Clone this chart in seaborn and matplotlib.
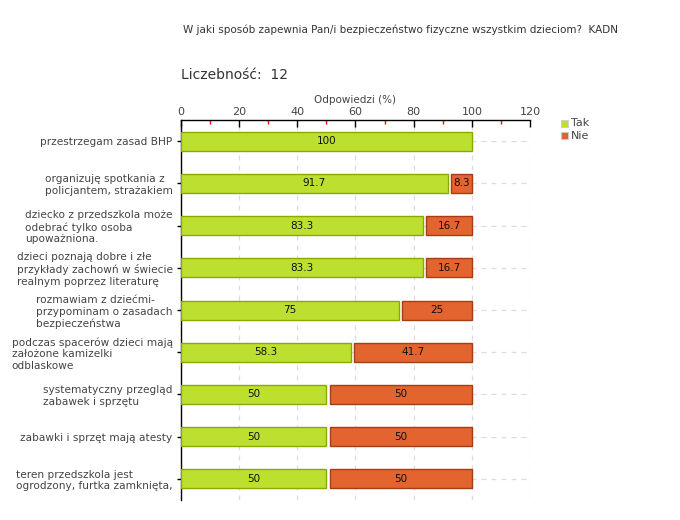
import matplotlib
matplotlib.use("Agg")
import matplotlib.pyplot as plt
import seaborn as sns
import pandas as pd
import numpy as np

categories = [
    "przestrzegam zasad BHP",
    "organizuję spotkania z\npolicjantem, strażakiem",
    "dziecko z przedszkola może\nodebrać tylko osoba\nupoważniona.",
    "dzieci poznają dobre i złe\nprzykłady zachowń w świecie\nrealnym poprzez literaturę",
    "rozmawiam z dziećmi-\nprzypominam o zasadach\nbezpieczeństwa",
    "podczas spacerów dzieci mają\nzałożone kamizelki\nodblaskowe",
    "systematyczny przegląd\nzabawek i sprzętu",
    "zabawki i sprzęt mają atesty",
    "teren przedszkola jest\nogrodzony, furtka zamknięta,",
]
tak = [100, 91.7, 83.3, 83.3, 75, 58.3, 50, 50, 50]
nie = [0, 8.3, 16.7, 16.7, 25, 41.7, 50, 50, 50]
series_names = ["Tak", "Nie"]
x_ticks = [0, 20, 40, 60, 80, 100, 120]

title = "W jaki sposób zapewnia Pan/i bezpieczeństwo fizyczne wszystkim dzieciom?  KADN"
count_label = "Liczebność:  12"
x_label = "Odpowiedzi (%)"

c_tak, e_tak = "#bde030", "#8aa800"
c_nie, e_nie = "#e3642f", "#a83c12"

sns.set_style("white")
plt.rcParams['font.family'] = ['DejaVu Sans']

fig = plt.figure(figsize=(6.8, 5.2), dpi=100)
ax = fig.add_axes([181/680, 1 - 500/520, (530-181)/680, (500-120)/520])

df = pd.DataFrame({"cat": categories, "Tak": tak, "Nie": nie})
ypos = np.arange(len(categories))

# grid
for xv in x_ticks[1:]:
    ax.axvline(xv, color="#dddddd", lw=0.9, ls=(0, (4, 4)), zorder=0)
for y in ypos:
    ax.axhline(y, color="#dddddd", lw=0.9, ls=(0, (4, 4)), zorder=0)

bh = 0.45
sns.barplot(data=df, x="Tak", y="cat", orient="h", color=c_tak, edgecolor=e_tak,
            linewidth=1.0, width=bh, saturation=1, ax=ax, zorder=3)
gap = 1.1
mask = np.array(nie) > 0
ax.barh(ypos[mask], np.array(nie)[mask] - gap, left=np.array(tak)[mask] + gap,
        height=bh, color=c_nie, edgecolor=e_nie, linewidth=1.0, zorder=3)

for i in range(len(categories)):
    if tak[i] > 0:
        ax.text(tak[i] / 2, i, f"{tak[i]:g}", ha="center", va="center", fontsize=7.5, color="#111111", zorder=5)
    if nie[i] > 0:
        ax.text(tak[i] + gap + (nie[i] - gap) / 2, i, f"{nie[i]:g}", ha="center", va="center",
                fontsize=7.5, color="#111111", zorder=5)

ax.set_xlim(0, 120)
ax.set_ylim(len(categories) - 0.5, -0.5)
ax.xaxis.tick_top()
ax.xaxis.set_label_position("top")
ax.set_xticks(x_ticks)
ax.set_xticks([10, 30, 50, 70, 90, 110], minor=True)
ax.tick_params(axis="x", which="major", direction="in", length=5, width=1, color="black",
               labelsize=8, labelcolor="#444444", pad=2)
ax.tick_params(axis="x", which="minor", direction="in", length=3, width=1, color="red", top=True)
ax.set_xlabel(x_label, fontsize=7.5, color="#444444", labelpad=3)
ax.set_ylabel("")
ax.set_yticks(ypos)
ax.set_yticklabels(categories, fontsize=7.6, color="#444444", multialignment="left")
ax.tick_params(axis="y", direction="out", length=3, width=1, color="black", pad=3, left=True)

for s in ["right", "bottom"]:
    ax.spines[s].set_visible(False)
for s in ["top", "left"]:
    ax.spines[s].set_visible(True)
    ax.spines[s].set_color("black")
    ax.spines[s].set_linewidth(1.0)

fig.text(183/680, 1 - 30/520, title, fontsize=7.5, color="#333333", va="center", ha="left")
fig.text(181/680, 1 - 75/520, count_label, fontsize=10, color="#333333", va="center", ha="left")

# legend
from matplotlib.patches import Rectangle
leg_cols = [(c_tak, e_tak), (c_nie, e_nie)]
for k, name in enumerate(series_names):
    yy = 1 - (123 + 13 * k) / 520
    fig.patches.append(Rectangle((561/680, yy - 3.5/520), 7/680, 7/520, transform=fig.transFigure,
                                 facecolor=leg_cols[k][0], edgecolor="#cccccc", lw=0.6))
    fig.text(571/680, yy, name, fontsize=8, color="#444444", va="center", ha="left")

fig.savefig("out.png", dpi=100)
